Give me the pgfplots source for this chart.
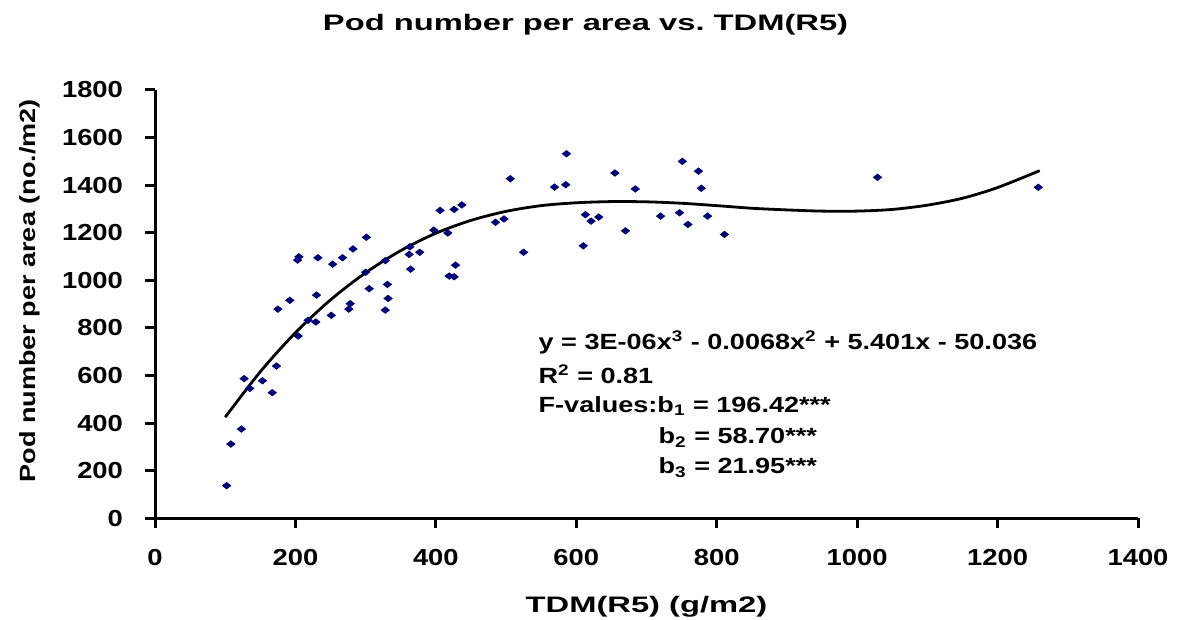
\documentclass[border=0pt]{standalone}
\usepackage{pgfplots}
\pgfplotsset{compat=1.18}
\usepackage{fontspec}
\setmainfont{Liberation Sans}[FakeStretch=1.23]
\newfontfamily\widefont{Liberation Sans}[FakeStretch=1.46]
\newfontfamily\tickfont{Liberation Sans}[FakeStretch=1.18]
\definecolor{navy}{RGB}{0,0,128}
\pgfplotstableread{
x y
102 137
108 312
123 375
127 587
135 546
153 578
167 528
173 640
175 879
192 916
203 1085
205 1099
204 766
218 832
229 825
230 938
232 1095
251 853
253 1068
267 1095
276 879
278 902
282 1132
301 1181
300 1034
305 965
328 875
331 983
332 924
328 1083
362 1109
364 1047
363 1141
377 1118
397 1211
406 1294
417 1199
419 1018
426 1015
428 1064
426 1298
437 1317
485 1244
497 1258
506 1427
525 1118
569 1392
585 1402
586 1532
613 1276
621 1249
632 1266
610 1145
655 1451
670 1208
684 1384
720 1270
747 1284
751 1500
759 1235
774 1459
778 1387
787 1270
811 1193
1029 1433
1258 1391
}\pts
\pgfplotstableread{
x y
100 425
150 616
200 780
250 918
300 1032
350 1125
400 1198
450 1252
500 1290
550 1314
600 1326
650 1331
700 1330
750 1324
800 1314
850 1303
900 1296
950 1291
1000 1291
1050 1298
1100 1316
1150 1345
1200 1390
1260 1461
}\fit
\begin{document}
\begin{tikzpicture}[x=1pt,y=1pt]
\useasboundingbox (0,0) rectangle (589,310);
\begin{axis}[
  at={(77.5pt,50.85pt)}, anchor=south west,
  scale only axis, width=491.5pt, height=214.15pt,
  xmin=0, xmax=1400, ymin=0, ymax=1800,
  axis x line=bottom, axis y line=left,
  axis line style={-, line width=1.5pt},
  xtick={0,200,...,1400}, ytick={0,200,...,1800},
  tick align=outside, major tick length=5pt,
  every tick/.style={black, line width=1.5pt},
  /pgf/number format/assume math mode=true,
  /pgf/number format/1000 sep={},
  tick label style={font=\tickfont\bfseries\fontsize{11.6}{13}\selectfont},
  yticklabel style={xshift=-7.5pt},
  xticklabel style={yshift=-7pt},
  title={Pod number per area vs.\ TDM(R5)},
  title style={at={(rel axis cs:0.438,1.110)}, anchor=base, inner sep=0pt,
    font=\widefont\bfseries\fontsize{11.2}{13}\selectfont},
  xlabel={TDM(R5) (g/m2)},
  xlabel style={at={(rel axis cs:0.5,-0.220)}, anchor=base, inner sep=0pt,
    font=\widefont\bfseries\fontsize{11.2}{13}\selectfont},
  ylabel={Pod number per area (no./m2)},
  ylabel style={at={(rel axis cs:-0.122,0.531)}, anchor=base, rotate=0, inner sep=0pt,
    font=\bfseries\fontsize{11}{13}\selectfont},
  clip=false,
]
\addplot[only marks, mark=diamond*, mark size=1.6pt,
  mark options={xscale=1.7, fill=navy, draw=navy}] table[x=x,y=y] {\pts};
\addplot[black, line width=1.4pt, smooth, no marks] table[x=x,y=y] {\fit};
\begin{scope}[every node/.style={anchor=base west, inner sep=0pt, font=\bfseries\fontsize{11}{13}\selectfont}]
\node at (axis cs:545.9,710.3) {y = 3E-06x\textsuperscript{3} - 0.0068x\textsuperscript{2} + 5.401x - 50.036};
\node at (axis cs:545.9,567.4) {R\textsuperscript{2} = 0.81};
\node at (axis cs:545.9,443.8) {F-values:b\textsubscript{1} = 196.42***};
\node at (axis cs:716.8,312.3) {b\textsubscript{2} = 58.70***};
\node at (axis cs:716.8,186.2) {b\textsubscript{3} = 21.95***};
\end{scope}
\end{axis}
\end{tikzpicture}
\end{document}
